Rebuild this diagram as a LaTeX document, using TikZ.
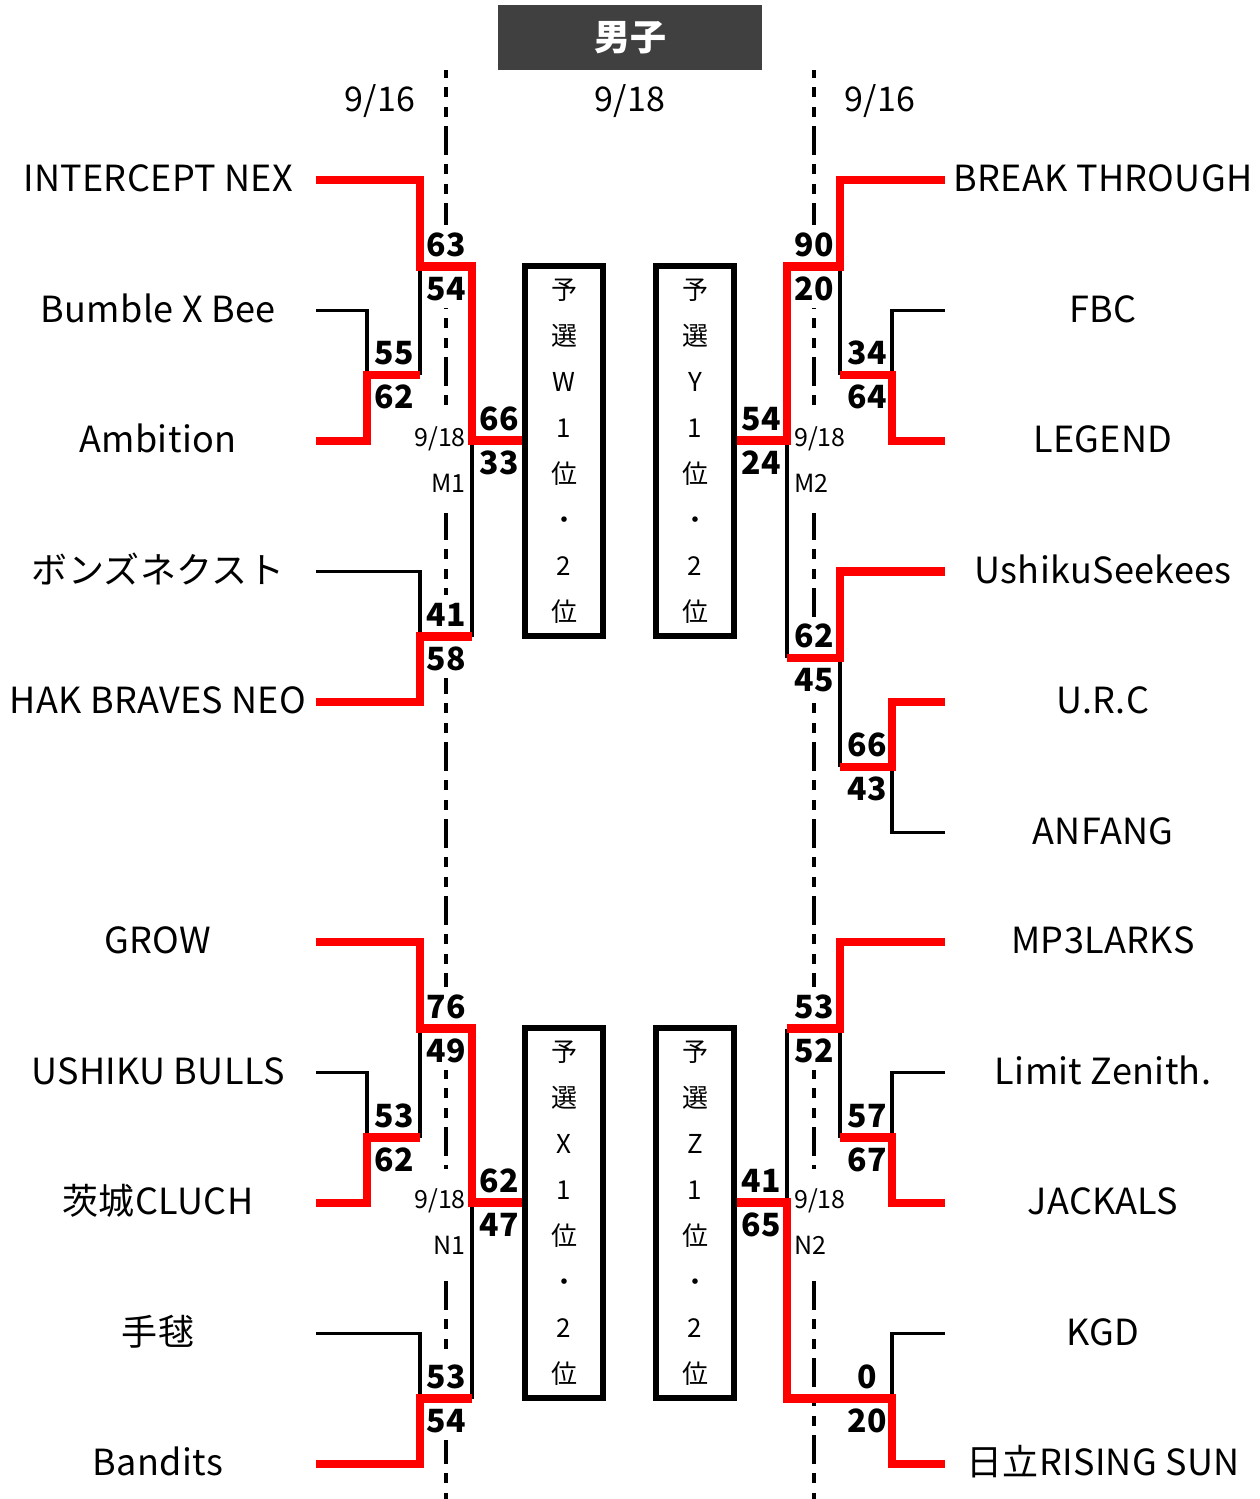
\documentclass[tikz,border=0pt]{standalone}
\usepackage{fontspec}
\setmainfont{Noto Sans CJK JP}
\newfontfamily\teamfont[LetterSpace=1]{Noto Sans CJK JP}
\usepackage{tikz}
\usetikzlibrary{positioning}
\definecolor{winRed}{HTML}{FF0000}
\definecolor{headGray}{HTML}{404040}

\tikzset{
  teamL/.style={minimum width=316pt,inner sep=0pt,outer sep=0pt,text height=23pt,text depth=0pt,
    font=\teamfont\fontsize{36}{44}\selectfont},
  teamR/.style={teamL},
  score/.style={fill=white,inner xsep=2pt,inner ysep=8pt,text height=23pt,text depth=0pt,
    font=\fontsize{32}{36}\selectfont\bfseries},
  matchday/.style={fill=white,inner xsep=2pt,inner ysep=20pt,font=\fontsize{25}{46}\selectfont},
  dayhead/.style={font=\teamfont\fontsize{34}{40}\selectfont},
  headbox/.style={fill=headGray,text=white,minimum width=264pt,minimum height=65pt,
    font=\fontsize{36}{40}\selectfont\bfseries},
  rankbox/.style={draw,line width=6.5pt,minimum width=78pt,minimum height=370pt,inner sep=0pt,
    align=center,font=\fontsize{26}{46}\selectfont},
  splitline/.style={line width=4pt,dash pattern=on 29pt off 9pt on 10pt off 10pt on 10pt off 9pt,dash phase=21pt},
  winline/.style={draw=winRed,line width=8.5pt},
  loseline/.style={draw=black,line width=3.5pt}
}

\begin{document}
\begin{tikzpicture}[x=1pt,y=-1pt]
  \useasboundingbox (0,0) rectangle (1259,1499);

  % title and days
  \node[headbox] (title) at (630,37.8) {男子};
  \node[dayhead] (dayL) at (380,101) {9/16};
  \node[dayhead] (dayC) at (630,101) {9/18};
  \node[dayhead] (dayR) at (880,101) {9/16};

  % day borders
  \coordinate (splitLtop) at (446,70);
  \coordinate (splitLbot) at (446,1499);
  \coordinate (splitRtop) at (814,70);
  \coordinate (splitRbot) at (814,1499);
  \draw[splitline] (splitLtop) -- (splitLbot);
  \draw[splitline] (splitRtop) -- (splitRbot);

  % junctions
  \coordinate (ja) at (367,375);
  \coordinate (jb) at (420,266.5);
  \coordinate (jc) at (420,636.5);
  \coordinate (m1) at (472,440.5);
  \coordinate (jd) at (892,375);
  \coordinate (je) at (840,266.5);
  \coordinate (jf) at (892,767);
  \coordinate (jg) at (840,658);
  \coordinate (m2) at (787,440.5);
  \coordinate (jh) at (367,1137.5);
  \coordinate (ji) at (420,1028.5);
  \coordinate (jj) at (420,1398.5);
  \coordinate (n1) at (472,1202.5);
  \coordinate (jk) at (892,1137.5);
  \coordinate (jl) at (840,1028.5);
  \coordinate (jm) at (892,1398.5);
  \coordinate (n2) at (787,1202.5);

  % scores
  \node[score] (ja-up) at (394,353) {55};
  \node[score] (ja-dn) at (394,397) {62};
  \node[score] (jb-up) at (446,244.5) {63};
  \node[score] (jb-dn) at (446,288.5) {54};
  \node[score] (jc-up) at (446,614.5) {41};
  \node[score] (jc-dn) at (446,658.5) {58};
  \node[score] (m1-up) at (499,418.5) {66};
  \node[score] (m1-dn) at (499,462.5) {33};
  \node[score] (jd-up) at (867,353) {34};
  \node[score] (jd-dn) at (867,397) {64};
  \node[score] (je-up) at (814,244.5) {90};
  \node[score] (je-dn) at (814,288.5) {20};
  \node[score] (jg-up) at (814,636) {62};
  \node[score] (jg-dn) at (814,680) {45};
  \node[score] (jf-up) at (867,745) {66};
  \node[score] (jf-dn) at (867,789) {43};
  \node[score] (m2-up) at (761,418.5) {54};
  \node[score] (m2-dn) at (761,462.5) {24};
  \node[score] (jh-up) at (394,1115.5) {53};
  \node[score] (jh-dn) at (394,1159.5) {62};
  \node[score] (ji-up) at (446,1006.5) {76};
  \node[score] (ji-dn) at (446,1050.5) {49};
  \node[score] (jj-up) at (446,1376.5) {53};
  \node[score] (jj-dn) at (446,1420.5) {54};
  \node[score] (n1-up) at (499,1180.5) {62};
  \node[score] (n1-dn) at (499,1224.5) {47};
  \node[score] (jk-up) at (867,1115.5) {57};
  \node[score] (jk-dn) at (867,1159.5) {67};
  \node[score] (jl-up) at (814,1006.5) {53};
  \node[score] (jl-dn) at (814,1050.5) {52};
  \node[score] (jm-up) at (867,1376.5) {0};
  \node[score] (jm-dn) at (867,1420.5) {20};
  \node[score] (n2-up) at (761,1180.5) {41};
  \node[score] (n2-dn) at (761,1224.5) {65};

  % match tags
  \node[matchday,anchor=east,align=right] (m1day) at (468,460) {9/18\\M1};
  \node[matchday,anchor=west,align=left] (m2day) at (792,460) {9/18\\M2};
  \node[matchday,anchor=east,align=right] (n1day) at (468,1221.5) {9/18\\N1};
  \node[matchday,anchor=west,align=left] (n2day) at (792,1221.5) {9/18\\N2};

  % qualifier boxes
  \node[rankbox] (boxW) at (564,451) {予\\選\\W\\1\\位\\・\\2\\位};
  \node[rankbox] (boxY) at (695,451) {予\\選\\Y\\1\\位\\・\\2\\位};
  \node[rankbox] (boxX) at (564,1213) {予\\選\\X\\1\\位\\・\\2\\位};
  \node[rankbox] (boxZ) at (695,1213) {予\\選\\Z\\1\\位\\・\\2\\位};

  % teams
  \node[teamL] (intercept) at (158,180) {INTERCEPT NEX};
  \node[teamL] (bumble) at (158,310.5) {Bumble X Bee};
  \node[teamL] (ambition) at (158,441) {Ambition};
  \node[teamL] (bonz) at (158,571.5) {ボンズネクスト};
  \node[teamL] (hak) at (158,702) {HAK BRAVES NEO};
  \node[teamR] (breakthr) at (1103,180) {BREAK THROUGH};
  \node[teamR] (fbc) at (1103,310.5) {FBC};
  \node[teamR] (legend) at (1103,441) {LEGEND};
  \node[teamR] (seekees) at (1103,571.5) {UshikuSeekees};
  \node[teamR] (urc) at (1103,702) {U.R.C};
  \node[teamR] (anfang) at (1103,832.5) {ANFANG};
  \node[teamL] (grow) at (158,942) {GROW};
  \node[teamL] (bulls) at (158,1072.5) {USHIKU BULLS};
  \node[teamL] (cluch) at (158,1203) {茨城CLUCH};
  \node[teamL] (temari) at (158,1333.5) {手毬};
  \node[teamL] (bandits) at (158,1464) {Bandits};
  \node[teamR] (mp3) at (1103,942) {MP3LARKS};
  \node[teamR] (zenith) at (1103,1072.5) {Limit Zenith.};
  \node[teamR] (jackals) at (1103,1203) {JACKALS};
  \node[teamR] (kgd) at (1103,1333.5) {KGD};
  \node[teamR] (rising) at (1103,1464) {日立RISING SUN};

  % losers
  \draw[loseline] (bumble.east) -| (ja);
  \draw[loseline] (ja -| jb) -- (jb);
  \draw[loseline] (bonz.east) -| (jc);
  \draw[loseline] (jc -| m1) -- (m1);
  \draw[loseline] (fbc.west) -| (jd);
  \draw[loseline] (jd -| je) -- (je);
  \draw[loseline] (anfang.west) -| (jf);
  \draw[loseline] (jf -| jg) -- (jg);
  \draw[loseline] (jg -| m2) -- (m2);
  \draw[loseline] (bulls.east) -| (jh);
  \draw[loseline] (jh -| ji) -- (ji);
  \draw[loseline] (temari.east) -| (jj);
  \draw[loseline] (jj -| n1) -- (n1);
  \draw[loseline] (zenith.west) -| (jk);
  \draw[loseline] (jk -| jl) -- (jl);
  \draw[loseline] (jl -| n2) -- (n2);
  \draw[loseline] (kgd.west) -| (jm);

  % winners
  \draw[winline] (ambition.east) -| (ja) -- (ja -| jb);
  \draw[winline] (intercept.east) -| (jb) -| (m1) -- (m1 -| boxW.west);
  \draw[winline] (hak.east) -| (jc) -- (jc -| m1);
  \draw[winline] (legend.west) -| (jd) -- (jd -| je);
  \draw[winline] (breakthr.west) -| (je) -| (m2) -- (m2 -| boxY.east);
  \draw[winline] (urc.west) -| (jf) -- (jf -| jg);
  \draw[winline] (seekees.west) -| (jg) -- (jg -| m2);
  \draw[winline] (cluch.east) -| (jh) -- (jh -| ji);
  \draw[winline] (grow.east) -| (ji) -| (n1) -- (n1 -| boxX.west);
  \draw[winline] (bandits.east) -| (jj) -- (jj -| n1);
  \draw[winline] (jackals.west) -| (jk) -- (jk -| jl);
  \draw[winline] (mp3.west) -| (jl) -- (jl -| n2);
  \draw[winline] (rising.west) -| (jm) -| (n2) -- (n2 -| boxZ.east);
\end{tikzpicture}
\end{document}
